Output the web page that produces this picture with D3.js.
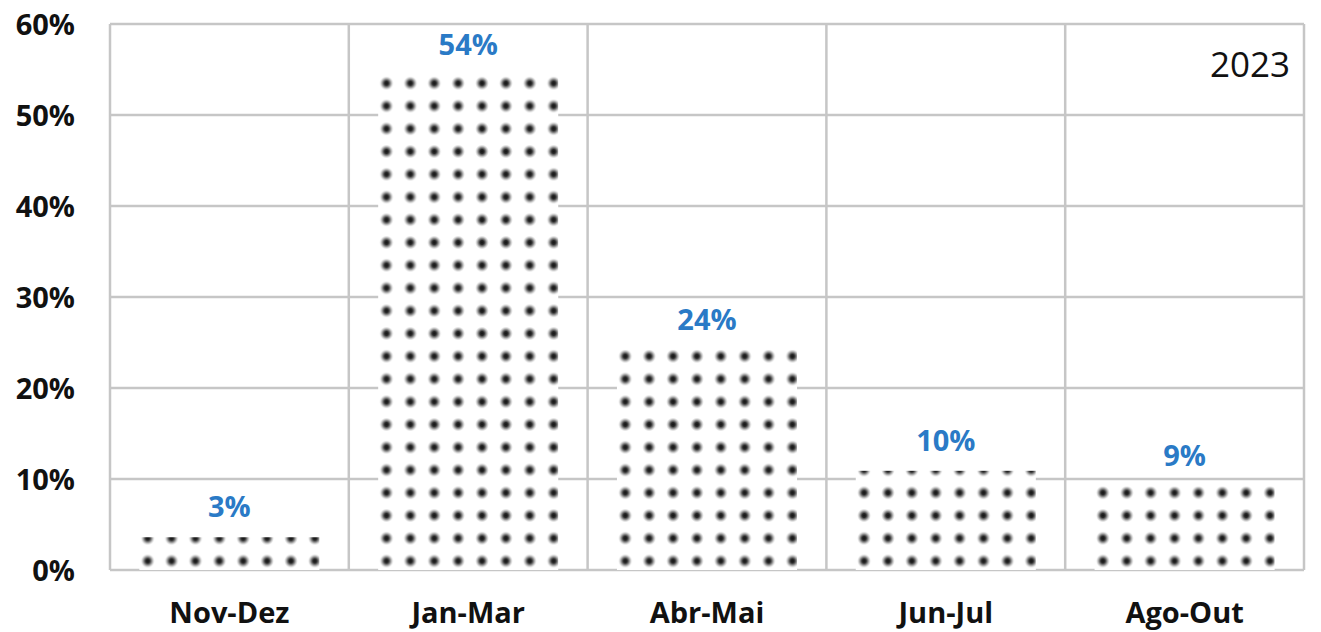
<!DOCTYPE html>
<html>
<head>
<meta charset="utf-8">
<script src="https://cdn.jsdelivr.net/npm/d3@7"></script>
<style>
  body { margin: 0; background: #fff; }
  svg { display: block; }
</style>
</head>
<body>
<svg width="1321" height="632"></svg>
<script>
// data
var categories = ["Nov-Dez", "Jan-Mar", "Abr-Mai", "Jun-Jul", "Ago-Out"];
var values = [3.6, 54.4, 24.2, 10.9, 9.2];
var yTicks = [0, 10, 20, 30, 40, 50, 60];
var yearLabel = "2023";

var margin = {top: 24, right: 17, bottom: 62, left: 110},
    width = 1321,
    height = 632;

var svg = d3.select("svg");

var x = d3.scaleBand()
    .domain(categories)
    .range([margin.left, width - margin.right])
    .paddingInner(0).paddingOuter(0);

var y = d3.scaleLinear()
    .domain([0, 60])
    .range([height - margin.bottom, margin.top]);

var barW = x.bandwidth() * 0.754;

// dot pattern, shared across all bars
var defs = svg.append("defs");
var grad = defs.append("radialGradient").attr("id", "dotGrad");
grad.append("stop").attr("offset", "0%").attr("stop-color", "#111").attr("stop-opacity", 1);
grad.append("stop").attr("offset", "30%").attr("stop-color", "#2a2a2a").attr("stop-opacity", 1);
grad.append("stop").attr("offset", "60%").attr("stop-color", "#8a8a8a").attr("stop-opacity", 0.9);
grad.append("stop").attr("offset", "85%").attr("stop-color", "#c8c8c8").attr("stop-opacity", 0.5);
grad.append("stop").attr("offset", "100%").attr("stop-color", "#e8e8e8").attr("stop-opacity", 0);

var dx = 23.88, dy = 22.75;
var pat = defs.append("pattern")
    .attr("id", "dots")
    .attr("patternUnits", "userSpaceOnUse")
    .attr("width", dx).attr("height", dy)
    .attr("x", 147.7 - dx / 2)
    .attr("y", y(0) - 9 - dy / 2);
pat.append("rect").attr("width", dx).attr("height", dy).attr("fill", "#fff");
pat.append("circle")
    .attr("cx", dx / 2).attr("cy", dy / 2).attr("r", 7)
    .attr("fill", "url(#dotGrad)");

// gridlines
var grid = svg.append("g").attr("stroke", "#c6c6c6").attr("stroke-width", 2.5);
grid.selectAll(".hl")
    .data(yTicks)
    .enter().append("line")
    .attr("x1", margin.left).attr("x2", width - margin.right)
    .attr("y1", function (d) { return y(d); })
    .attr("y2", function (d) { return y(d); });

var edges = categories.map(function (c) { return x(c); }).concat([width - margin.right]);
grid.selectAll(".vl")
    .data(edges)
    .enter().append("line")
    .attr("x1", function (d) { return d; }).attr("x2", function (d) { return d; })
    .attr("y1", y(60)).attr("y2", y(0));

// bars
svg.append("g")
    .selectAll("rect")
    .data(values)
    .enter().append("rect")
    .attr("x", function (d, i) { return x(categories[i]) + (x.bandwidth() - barW) / 2; })
    .attr("y", function (d) { return y(d); })
    .attr("width", barW)
    .attr("height", function (d) { return y(0) - y(d); })
    .attr("fill", "url(#dots)");

// data labels
svg.append("g")
    .selectAll("text")
    .data(values)
    .enter().append("text")
    .attr("x", function (d, i) { return x(categories[i]) + x.bandwidth() / 2; })
    .attr("y", function (d) { return y(d) - 20; })
    .attr("text-anchor", "middle")
    .style("font-family", "'Open Sans', sans-serif")
    .style("font-weight", "bold")
    .style("font-size", "29px")
    .attr("fill", "#2a7ac6")
    .text(function (d) { return Math.floor(d) + "%"; });

// y axis labels
svg.append("g")
    .selectAll("text")
    .data(yTicks)
    .enter().append("text")
    .attr("x", 75)
    .attr("y", function (d) { return y(d) + 11; })
    .attr("text-anchor", "end")
    .style("font-family", "'Open Sans', sans-serif")
    .style("font-weight", "bold")
    .style("font-size", "29px")
    .attr("fill", "#111")
    .text(function (d) { return d + "%"; });

// x axis labels
svg.append("g")
    .selectAll("text")
    .data(categories)
    .enter().append("text")
    .attr("x", function (d) { return x(d) + x.bandwidth() / 2; })
    .attr("y", 623)
    .attr("text-anchor", "middle")
    .style("font-family", "'Open Sans', sans-serif")
    .style("font-weight", "bold")
    .style("font-size", "29px")
    .attr("fill", "#111")
    .text(function (d) { return d; });

// year label
svg.append("text")
    .attr("x", 1290).attr("y", 77)
    .attr("text-anchor", "end")
    .style("font-family", "'Open Sans', sans-serif")
    .style("font-size", "35px")
    .attr("fill", "#111")
    .text(yearLabel);
</script>
</body>
</html>
